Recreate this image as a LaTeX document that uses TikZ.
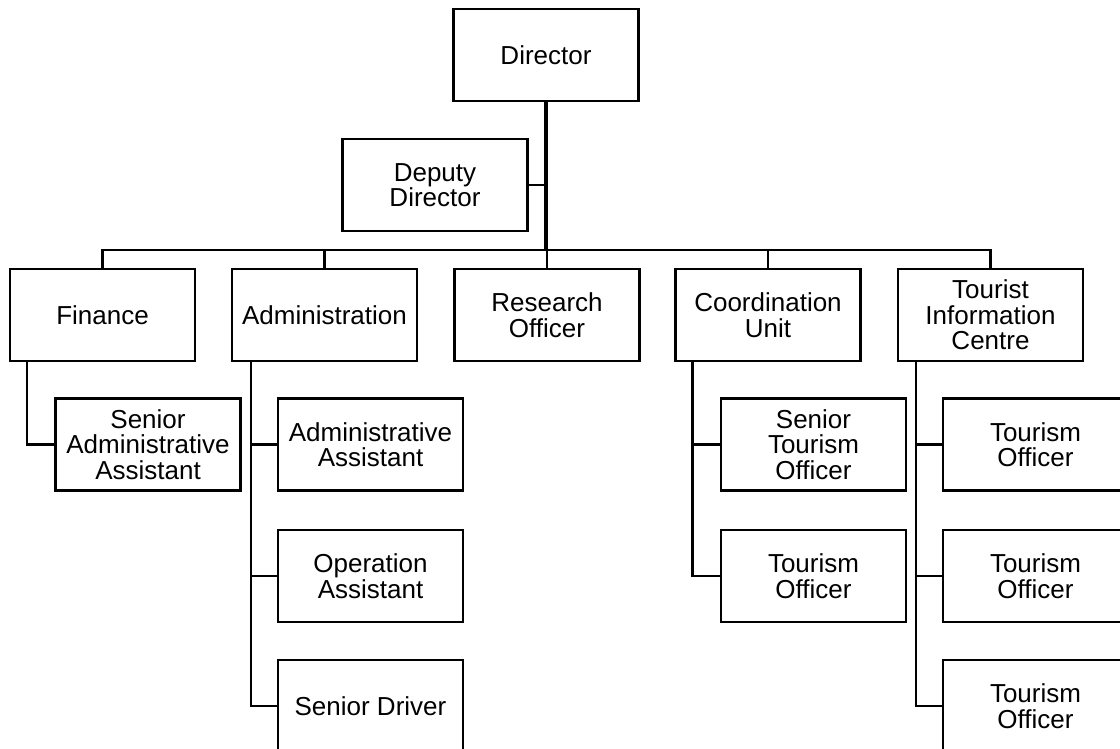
\documentclass[tikz,border=0pt]{standalone}
\usepackage{fontspec}
\setmainfont{Liberation Sans}
\usetikzlibrary{calc}
\begin{document}
\begin{tikzpicture}[x=1pt,y=-1pt,
  unit/.style={draw=black, line width=2.2pt, fill=white, minimum width=185pt,
    minimum height=92pt, inner sep=0pt, align=center,
    font=\fontsize{26}{25.5}\selectfont},
  link/.style={line width=2.2pt},
  thinlink/.style={line width=1.4pt},
  trunk/.style={line width=3.4pt},
  busline/.style={line width=2.6pt}]
\useasboundingbox (0,0) rectangle (1120,749);

% top level
\node[unit] (dir) at (546,55) {Director};
\node[unit] (dep) at (435,185) {Deputy\\Director};

% departments
\node[unit] (fin) at (102.5,315) {Finance};
\node[unit] (adm) at (324.5,315) {Administration};
\node[unit] (res) at (547,315) {Research\\Officer};
\node[unit] (coo) at (768,315) {Coordination\\Unit};
\node[unit] (tic) at (990.5,315) {Tourist\\Information\\Centre};

% staff
\node[unit] (saa) at (148,444.5) {Senior\\Administrative\\Assistant};
\node[unit] (aa)  at (370.5,444.5) {Administrative\\Assistant};
\node[unit] (oa)  at (370.5,576) {Operation\\Assistant};
\node[unit] (sd)  at (370.5,706) {Senior Driver};
\node[unit] (sto) at (813.5,444.5) {Senior\\Tourism\\Officer};
\node[unit] (to1) at (813.5,576) {Tourism\\Officer};
\node[unit] (to2) at (1035.5,444.5) {Tourism\\Officer};
\node[unit] (to3) at (1035.5,576) {Tourism\\Officer};
\node[unit] (to4) at (1035.5,706) {Tourism\\Officer};

% trunk and bus
\coordinate (bus) at (546,250);
\draw[trunk] (dir.south) -- (bus);
\draw[link] (dep.east) -- (dep.east -| dir.south);
\draw[busline] (fin.north) |- (bus) -| (tic.north);
\draw[link] (adm.north) -- (adm.north |- bus);
\draw[thinlink] (res.north) -- (res.north |- bus);
\draw[link] (coo.north) -- (coo.north |- bus);

% reporting lines
\coordinate (finx) at ($(fin.south west)+(18,0)$);
\draw[link] (finx) |- (saa.west);
\coordinate (admx) at ($(adm.south west)+(20,0)$);
\draw[link] (admx) |- (sd.west);
\draw[link] (aa.west) -- (aa.west -| admx);
\draw[link] (oa.west) -- (oa.west -| admx);
\coordinate (coox) at ($(coo.south west)+(18,0)$);
\draw[link] (coox) |- (to1.west);
\draw[link] (sto.west) -- (sto.west -| coox);
\coordinate (ticx) at ($(tic.south west)+(19,0)$);
\draw[link] (ticx) |- (to4.west);
\draw[link] (to2.west) -- (to2.west -| ticx);
\draw[link] (to3.west) -- (to3.west -| ticx);
\end{tikzpicture}
\end{document}
